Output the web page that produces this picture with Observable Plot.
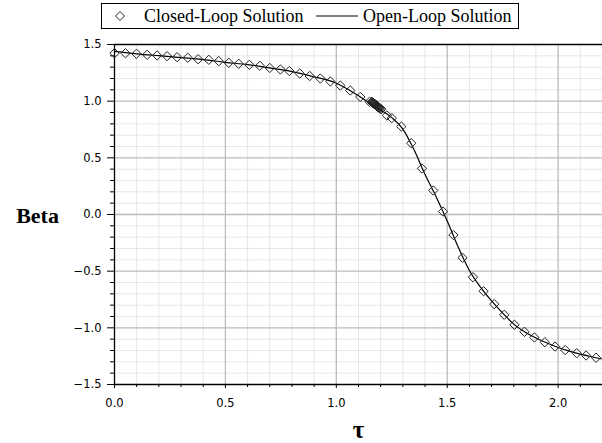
<!DOCTYPE html>
<html>
<head>
<meta charset="utf-8">
<script src="https://cdn.jsdelivr.net/npm/d3@7"></script>
<script src="https://cdn.jsdelivr.net/npm/@observablehq/plot@0.6"></script>
<style>
  html, body { margin: 0; padding: 0; background: #fff; }
  #wrap { position: relative; width: 602px; height: 443px; overflow: hidden; }
  #legend { position: relative; width: 602px; height: 32px; font-family: "Liberation Serif", serif; font-size: 18px; color: #000; }
  #legbox { position: absolute; left: 101px; top: 3px; width: 418px; height: 26px; border: 1px solid #000; box-sizing: border-box; }
  .lt { position: absolute; top: 1px; white-space: nowrap; line-height: 22px; }
  svg.leg { position: absolute; }
</style>
</head>
<body>
<div id="wrap">
  <div id="legend"><div id="legbox"></div></div>
  <div id="chart"></div>
</div>
<script>
// ---- data ----
const seriesNames = ["Closed-Loop Solution", "Open-Loop Solution"];

const closedX = [0, 0.0495, 0.099, 0.147, 0.192, 0.237, 0.282, 0.330, 0.377, 0.425, 0.470, 0.515, 0.560, 0.608, 0.655, 0.700, 0.748, 0.788, 0.835, 0.880, 0.928, 0.973, 1.018, 1.063, 1.108, 1.150,
  1.160, 1.162, 1.164, 1.166, 1.168, 1.170, 1.172, 1.174, 1.176, 1.178, 1.180, 1.182, 1.184, 1.186, 1.188, 1.190, 1.192, 1.195, 1.198, 1.202,
  1.228, 1.250, 1.293, 1.338, 1.386, 1.437, 1.481, 1.528, 1.569, 1.616, 1.664, 1.712, 1.757, 1.803, 1.848, 1.893, 1.940, 1.986, 2.032, 2.084, 2.126, 2.171];
const closedY = [1.423, 1.423, 1.418, 1.409, 1.403, 1.397, 1.388, 1.383, 1.370, 1.365, 1.353, 1.339, 1.330, 1.321, 1.312, 1.293, 1.279, 1.266, 1.244, 1.222, 1.200, 1.174, 1.138, 1.094, 1.037, 0.995,
  0.993, 0.990, 0.987, 0.984, 0.981, 0.978, 0.975, 0.972, 0.969, 0.966, 0.962, 0.959, 0.956, 0.953, 0.950, 0.947, 0.944, 0.939, 0.935, 0.929,
  0.874, 0.850, 0.776, 0.629, 0.406, 0.212, 0.026, -0.181, -0.382, -0.553, -0.677, -0.791, -0.885, -0.973, -1.035, -1.085, -1.127, -1.165, -1.196, -1.224, -1.244, -1.264];

const openX = [0, 0.1, 0.2, 0.3, 0.4, 0.5, 0.6, 0.7, 0.8, 0.9, 1.0, 1.05, 1.1, 1.15, 1.2, 1.25, 1.3, 1.35, 1.4, 1.45, 1.5, 1.55, 1.6, 1.65, 1.7, 1.75, 1.8, 1.85, 1.9, 1.95, 2.0, 2.05, 2.1, 2.15, 2.2];
const openY = [1.44, 1.418, 1.401, 1.385, 1.367, 1.343, 1.323, 1.293, 1.261, 1.215, 1.158, 1.108, 1.048, 0.985, 0.922, 0.855, 0.753, 0.573, 0.353, 0.157, -0.058, -0.289, -0.494, -0.641, -0.763, -0.87, -0.967, -1.037, -1.09, -1.134, -1.173, -1.205, -1.232, -1.255, -1.276];

const xMajor = [0, 0.5, 1.0, 1.5, 2.0];
const xMinor = [0.1, 0.2, 0.3, 0.4, 0.6, 0.7, 0.8, 0.9, 1.1, 1.2, 1.3, 1.4, 1.6, 1.7, 1.8, 1.9, 2.1];
const yMajor = [-1.5, -1.0, -0.5, 0.0, 0.5, 1.0, 1.5];
const yMinor = [-1.4, -1.3, -1.2, -1.1, -0.9, -0.8, -0.7, -0.6, -0.4, -0.3, -0.2, -0.1, 0.1, 0.2, 0.3, 0.4, 0.6, 0.7, 0.8, 0.9, 1.1, 1.2, 1.3, 1.4];
const xLabel = "τ";
const yLabel = "Beta";

// ---- build ----
const closed = closedX.map((x, i) => ({x, y: closedY[i]}));
const open = openX.map((x, i) => ({x, y: openY[i]}));
const fmt = d => (d < -1e-9 ? "\u2212" : "") + Math.abs(d).toFixed(1);
const none = () => "";

const chart = Plot.plot({
  width: 602,
  height: 411,
  marginLeft: 114,
  marginRight: 0,
  marginTop: 12,
  marginBottom: 59,
  style: {fontFamily: "DejaVu Sans, sans-serif", fontSize: "11.5px", color: "#000", background: "#fff", overflow: "visible"},
  x: {domain: [0, 2.2]},
  y: {domain: [-1.5, 1.5]},
  marks: [
    Plot.gridX(xMinor, {stroke: "#e6e6e6", strokeOpacity: 1}),
    Plot.gridY(yMinor, {stroke: "#e6e6e6", strokeOpacity: 1}),
    Plot.gridX(xMajor.filter(d => d > 0), {stroke: "#bcbcbc", strokeOpacity: 1, strokeWidth: 1.3}),
    Plot.gridY(yMajor.filter(d => d > -1.5 && d < 1.5), {stroke: "#bcbcbc", strokeOpacity: 1, strokeWidth: 1.3}),
    Plot.axisX(xMinor, {anchor: "bottom", tickSize: 3, tickFormat: none, label: null, stroke: "#000"}),
    Plot.axisX(xMajor, {anchor: "bottom", tickSize: 4, tickPadding: 10, tickFormat: fmt, label: null, stroke: "#000"}),
    Plot.axisY(yMinor, {anchor: "left", tickSize: 4, tickFormat: none, label: null, stroke: "#000"}),
    Plot.axisY(yMajor, {anchor: "left", tickSize: 7, tickPadding: 6, tickFormat: fmt, label: null, stroke: "#000"}),
    Plot.ruleX([0], {stroke: "#000", strokeWidth: 1.3}),
    Plot.ruleY([-1.5], {stroke: "#000", strokeWidth: 1.3}),
    Plot.ruleY([1.5], {stroke: "#000", strokeWidth: 1.3}),
    Plot.line(open, {x: "x", y: "y", stroke: "#000", strokeWidth: 1.2, curve: "monotone-x"}),
    Plot.dot(closed, {x: "x", y: "y", symbol: "diamond2", r: 4.2, stroke: "#222", strokeWidth: 1, fill: "none"}),
    Plot.text([yLabel], {frameAnchor: "left", dx: -77, dy: 1, textAnchor: "middle", fontFamily: "Liberation Serif, serif", fontWeight: "bold", fontSize: 22, fill: "#000"}),
    Plot.text([xLabel], {frameAnchor: "bottom", dy: 45, lineAnchor: "middle", textAnchor: "middle", fontFamily: "Liberation Serif, serif", fontWeight: "bold", fontSize: 25, fill: "#000"})
  ]
});
document.getElementById("chart").appendChild(chart);

// ---- legend ----
const box = document.getElementById("legbox");
const ns = "http://www.w3.org/2000/svg";
function sym(left, w, draw) {
  const s = document.createElementNS(ns, "svg");
  s.setAttribute("class", "leg");
  s.setAttribute("width", w); s.setAttribute("height", 24);
  s.style.left = left + "px"; s.style.top = "0px";
  s.innerHTML = draw;
  box.appendChild(s);
}
sym(11, 14, '<path d="M7,7.5L11.5,12L7,16.5L2.5,12Z" fill="none" stroke="#222" stroke-width="1"/>');
const t1 = document.createElement("div"); t1.className = "lt"; t1.style.left = "42px"; t1.textContent = seriesNames[0]; box.appendChild(t1);
sym(213, 44, '<line x1="1" y1="12" x2="43" y2="12" stroke="#000" stroke-width="1.2"/>');
const t2 = document.createElement("div"); t2.className = "lt"; t2.style.left = "261px"; t2.textContent = seriesNames[1]; box.appendChild(t2);
</script>
</body>
</html>
